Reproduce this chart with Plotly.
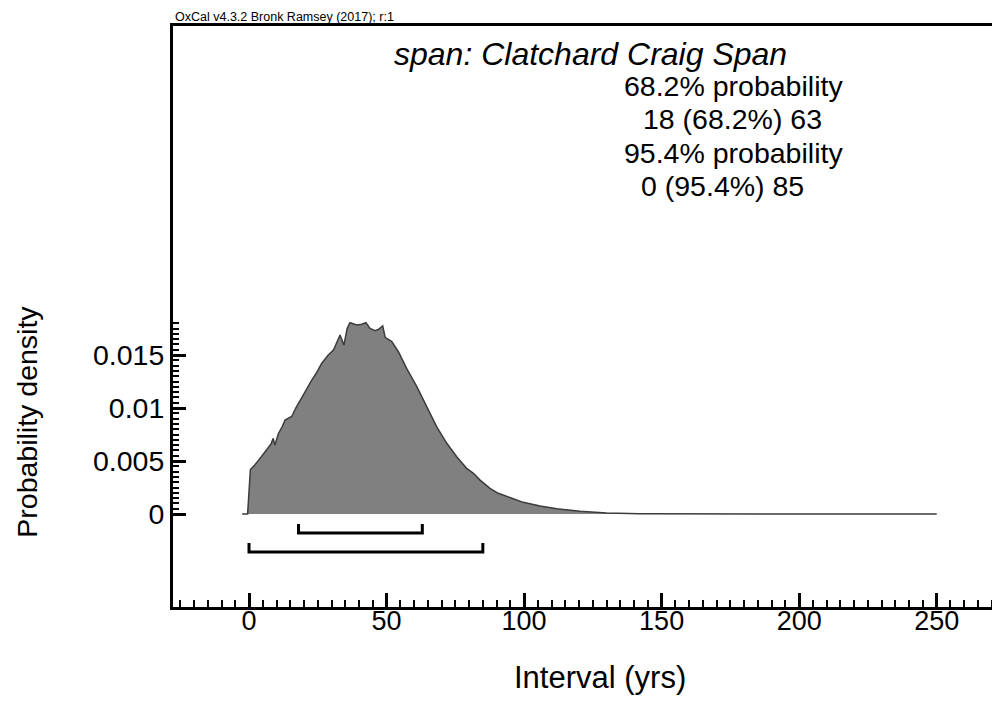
import numpy as np
import plotly.graph_objects as go

# ---- data ----
interval_yrs = [-2.5, -0.5, 0.5, 2, 4, 6.4, 8, 8.8, 9.4, 10.7, 12, 13.1, 15.5, 17, 19.2,
                21, 22.8, 24.5, 26.4, 28.8, 30.7, 32, 33.1, 34.5, 35.7, 36.7, 38, 39.2,
                41, 42.5, 44, 45.8, 47, 48.6, 49.5, 51.9, 54.3, 57.3, 61, 64.6, 68.2,
                71.9, 73.7, 75.5, 79.1, 81.6, 84, 87.6, 90.6, 94.9, 99.7, 105.8, 111.9,
                120.3, 130, 142, 160, 200, 250]
density = [0, 0, 0.0042, 0.0046, 0.00525, 0.0060, 0.0066, 0.00714, 0.0065, 0.0076,
           0.0082, 0.00887, 0.0092, 0.0100, 0.01107, 0.0118, 0.01264, 0.0133, 0.0142,
           0.0150, 0.01547, 0.0162, 0.01689, 0.01594, 0.01752, 0.01805, 0.01795,
           0.01783, 0.0179, 0.01805, 0.0175, 0.0173, 0.0174, 0.01774, 0.01667,
           0.01626, 0.01531, 0.01374, 0.01201, 0.01012, 0.00824, 0.00667, 0.00604,
           0.0054, 0.00431, 0.00384, 0.0032, 0.00242, 0.00195, 0.00154, 0.0011,
           0.00075, 0.0005, 0.00025, 0.0001, 0.00003, 0.00001, 0.000003, 0]

range_68 = [18, 63]
range_95 = [0, 85]
x_tick_values = [0, 50, 100, 150, 200, 250]
y_tick_values = [0, 0.005, 0.01, 0.015]
y_tick_labels = ["0", "0.005", "0.01", "0.015"]

header_text = "OxCal v4.3.2 Bronk Ramsey (2017); r:1"
title_text = "span: Clatchard Craig Span"
x_title = "Interval (yrs)"
y_title = "Probability density"

# ---- layout geometry (pixels, page has an 8px body margin) ----
OFF = 8
W, H = 1000 - OFF, 702 - OFF
L, R, T = 173 - OFF, 0, 26 - OFF
B = H - (607 - OFF)
PW, PH = W - L - R, H - T - B
FONT = "Liberation Sans, Arial, sans-serif"


def px(xp):
    return (xp - OFF - L) / PW


def py(yp):
    return (H - B - (yp - OFF)) / PH


fig = go.Figure()

fig.add_trace(go.Scatter(
    x=interval_yrs, y=density, mode="lines", fill="tozeroy",
    fillcolor="#808080", line=dict(color="#3c3c3c", width=1.5),
    hoverinfo="skip", showlegend=False))

# range brackets (vertical offsets below the baseline are style constants)
for (lo, hi), top, bot in [(range_68, -0.00094, -0.00179),
                           (range_95, -0.00274, -0.00358)]:
    fig.add_trace(go.Scatter(
        x=[lo, lo, hi, hi], y=[top, bot, bot, top], mode="lines",
        line=dict(color="black", width=3), hoverinfo="skip", showlegend=False))

y_minor = [v for v in np.round(np.arange(0, 0.01801, 0.0005), 6)]

fig.update_layout(
    width=W, height=H, margin=dict(l=L, r=R, t=T, b=B),
    paper_bgcolor="white", plot_bgcolor="white",
    font=dict(family=FONT, color="black"),
    xaxis=dict(
        range=[-27.63, 273.0], tickmode="array", tickvals=x_tick_values,
        ticks="inside", ticklen=14, tickwidth=2.5, tickcolor="black",
        showline=True, linewidth=3, linecolor="black", mirror=True,
        showgrid=False, zeroline=False, tickfont=dict(size=27),
        ticklabelstandoff=-12,
        minor=dict(dtick=5, tick0=0, ticks="inside", ticklen=7,
                   tickwidth=1.5, tickcolor="black", showgrid=False)),
    yaxis=dict(
        range=[-0.008774, 0.04604], tickmode="array", tickvals=y_tick_values,
        ticktext=y_tick_labels, ticks="inside", ticklen=13, tickwidth=2.5,
        tickcolor="black", showline=True, linewidth=3, linecolor="black",
        showgrid=False, zeroline=False, tickfont=dict(size=28.5),
        minor=dict(tickmode="array", tickvals=y_minor, ticks="inside",
                   ticklen=6, tickwidth=1.5, tickcolor="black", showgrid=False)),
)

ann = []
ann.append(dict(text=header_text, x=px(173), y=py(17.5), xanchor="left",
                yanchor="middle", font=dict(size=12.5)))
ann.append(dict(text="<i>" + title_text + "</i>", x=px(590), y=py(53.7),
                xanchor="center", yanchor="middle", font=dict(size=32)))
lines = [("68.2% probability", 733, 86),
         ("%d (68.2%%) %d" % (range_68[0], range_68[1]), 732.5, 119),
         ("95.4% probability", 733, 152.5),
         ("%d (95.4%%) %d" % (range_95[0], range_95[1]), 722, 186)]
for t, xx, yy in lines:
    ann.append(dict(text=t, x=px(xx), y=py(yy), xanchor="center",
                    yanchor="middle", font=dict(size=28.5)))
ann.append(dict(text=y_title, x=px(27), y=py(421.7), xanchor="center",
                yanchor="middle", textangle=-90, font=dict(size=28.5)))
ann.append(dict(text=x_title, x=px(600), y=py(677), xanchor="center",
                yanchor="middle", font=dict(size=31)))
for a in ann:
    a.update(xref="paper", yref="paper", showarrow=False)
fig.update_layout(annotations=ann)

fig.write_html("out.html")
